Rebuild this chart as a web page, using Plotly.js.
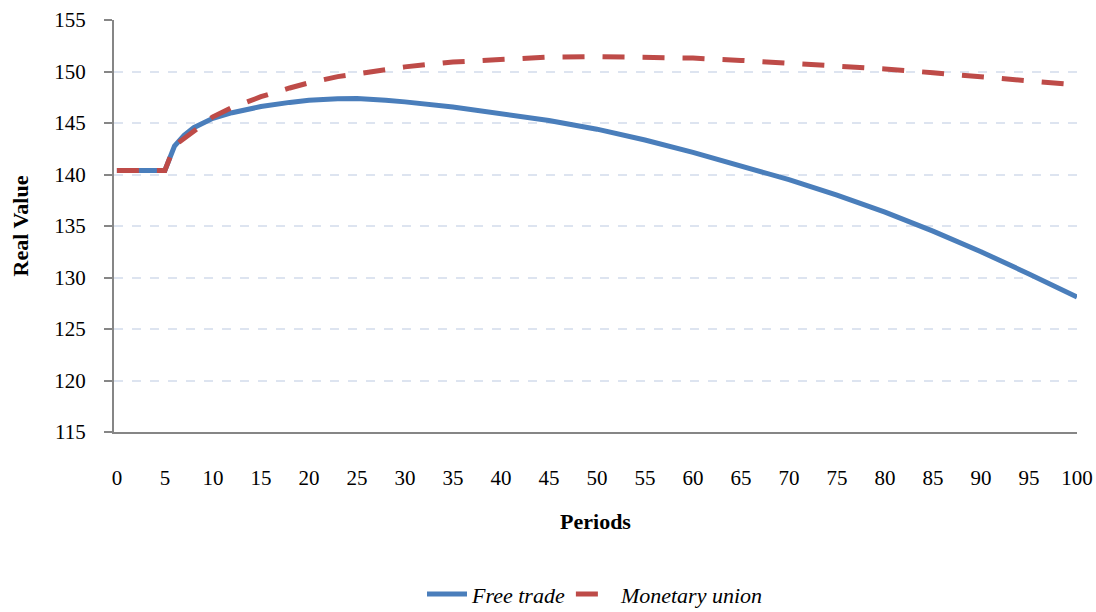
<!DOCTYPE html>
<html>
<head>
<meta charset="utf-8">
<script src="https://cdn.plot.ly/plotly-3.0.1.min.js"></script>
<style>html,body{margin:0;padding:0;background:#fff;}</style>
</head>
<body>
<div id="chart" style="width:1096px;height:612px;"></div>
<script>
const periods = [0,1,2,3,4,5,6,7,8,9,10,12,15,18,20,23,25,28,30,35,40,45,50,55,60,65,70,75,80,85,90,95,100];
const freeTrade = [140.4,140.4,140.4,140.4,140.4,140.4,142.75,143.8,144.55,145.05,145.45,146.0,146.6,147.0,147.2,147.35,147.38,147.2,147.05,146.55,145.95,145.25,144.4,143.35,142.15,140.85,139.5,138.0,136.35,134.5,132.5,130.35,128.1];
const monetaryUnion = [140.4,140.4,140.4,140.4,140.4,140.4,142.8,143.5,144.3,145.0,145.6,146.5,147.55,148.4,148.9,149.5,149.8,150.2,150.45,150.92,151.22,151.4,151.45,151.42,151.3,151.08,150.82,150.55,150.25,149.88,149.52,149.12,148.7];
const xTicks = [0,5,10,15,20,25,30,35,40,45,50,55,60,65,70,75,80,85,90,95,100];
const yTicks = [115,120,125,130,135,140,145,150,155];

const serif = "Liberation Serif, Times New Roman, serif";

const traces = [
  {x: periods, y: freeTrade, name: "Free trade", type: "scatter", mode: "lines",
   line: {color: "#4a7ebb", width: 5}},
  {x: periods, y: monetaryUnion, name: "Monetary union", type: "scatter", mode: "lines",
   line: {color: "#be4b48", width: 5, dash: "22px,18px"}}
];

const layout = {
  width: 1096, height: 612,
  margin: {l: 114, r: 19, t: 20, b: 180, autoexpand: false},
  paper_bgcolor: "#ffffff", plot_bgcolor: "#ffffff",
  font: {family: serif, size: 20, color: "#000"},
  showlegend: true,
  legend: {orientation: "h", x: 0.5, xanchor: "center", y: -0.343, yanchor: "top",
           itemwidth: 40, tracegroupgap: 0,
           font: {family: serif, size: 22, style: "italic", color: "#000"}},
  xaxis: {
    range: [-0.3, 100], tickvals: xTicks, ticktext: xTicks.map(String),
    showgrid: false, zeroline: false, showline: true, linecolor: "#868686", linewidth: 2,
    ticks: "", ticklabelstandoff: 26, automargin: false,
    tickfont: {family: serif, size: 21, color: "#000"},
    title: {text: "Periods", font: {family: serif, size: 22, weight: "bold", color: "#000"}, standoff: 24}
  },
  yaxis: {
    range: [115, 155], tickvals: yTicks, ticktext: yTicks.map(String),
    showgrid: true, gridcolor: "#dde4f0", gridwidth: 2, griddash: "dash",
    zeroline: false, showline: true, linecolor: "#868686", linewidth: 2,
    ticks: "outside", ticklen: 8, tickcolor: "#868686", tickwidth: 2, ticklabelstandoff: 14,
    automargin: false,
    tickfont: {family: serif, size: 21, color: "#000"},
    title: {text: "Real Value", font: {family: serif, size: 22, weight: "bold", color: "#000"}, standoff: 20}
  }
};

Plotly.newPlot("chart", traces, layout, {displayModeBar: false, staticPlot: true});
</script>
</body>
</html>
